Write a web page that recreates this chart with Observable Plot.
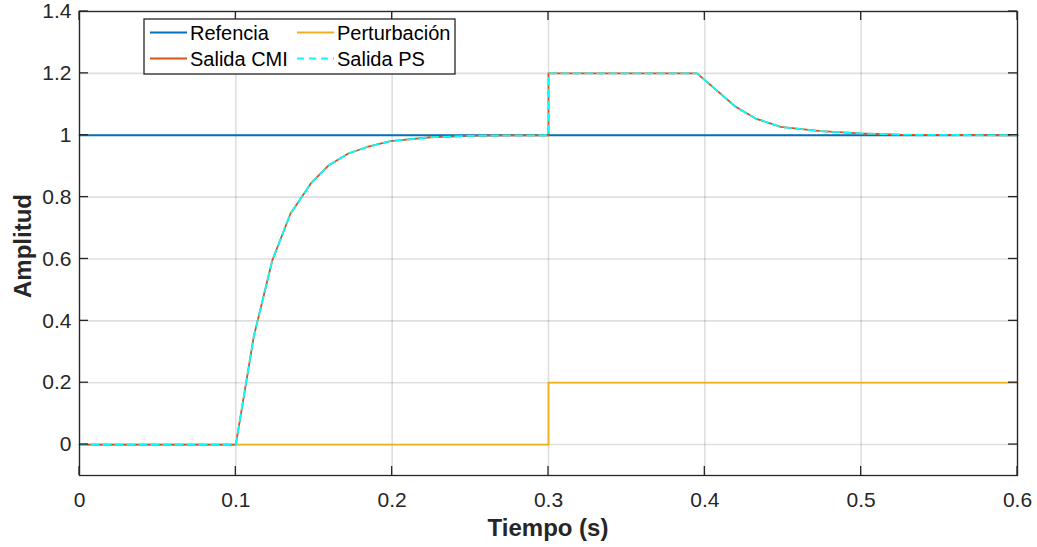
<!DOCTYPE html>
<html><head><meta charset="utf-8">
<script src="https://cdn.jsdelivr.net/npm/d3@7"></script>
<script src="https://cdn.jsdelivr.net/npm/@observablehq/plot@0.6"></script>
<style>body{margin:0;background:#fff;} #chart{width:1037px;height:547px;}</style>
</head><body><div id="chart"></div>
<script>
// ---- data ----
const xTicks = [0, 0.1, 0.2, 0.3, 0.4, 0.5, 0.6];
const yTicks = [0, 0.2, 0.4, 0.6, 0.8, 1, 1.2, 1.4];
const seriesNames = ["Refencia", "Perturbación", "Salida CMI", "Salida PS"];
const seriesColors = ["#0072BD", "#EDB120", "#D95319", "#00FFFF"];
const refT = [0, 0.6];
const refY = [1, 1];
const pertT = [0, 0.3, 0.3, 0.6];
const pertY = [0, 0, 0.2, 0.2];
const outT = [0, 0.1, 0.1115, 0.1233, 0.135, 0.148, 0.1595, 0.172, 0.184, 0.199, 0.2246, 0.25, 0.275, 0.3, 0.3, 0.395, 0.4197, 0.4325, 0.4485, 0.474, 0.4997, 0.525, 0.55, 0.6];
const outY = [0, 0, 0.35, 0.595, 0.747, 0.844, 0.903, 0.941, 0.962, 0.981, 0.9935, 0.998, 0.9995, 1, 1.2, 1.2, 1.092, 1.054, 1.027, 1.013, 1.006, 1.002, 1.001, 1];

const W = 1037, H = 547;
const FONT = "Liberation Sans, Arial, Helvetica, sans-serif";
const fmt = d => String(+d.toFixed(1));

const plot = Plot.plot({
  width: W, height: H,
  marginLeft: 79, marginRight: 20, marginTop: 11, marginBottom: 72,
  style: {fontFamily: FONT, fontSize: "21px", color: "#262626", background: "#fff"},
  x: {domain: [0, 0.6]},
  y: {domain: [-0.1, 1.4]},
  marks: [
    Plot.gridX(xTicks, {stroke: "#262626", strokeOpacity: 0.15, strokeWidth: 1.6}),
    Plot.gridY(yTicks, {stroke: "#262626", strokeOpacity: 0.15, strokeWidth: 1.6}),
    Plot.axisX(xTicks, {tickSize: 0, tickPadding: 17, tickFormat: fmt, label: null, fill: "#262626"}),
    Plot.axisY(yTicks, {tickSize: 0, tickPadding: 8, tickFormat: fmt, label: null, fill: "#262626"}),
    Plot.line(refT, {x: refT, y: refY, stroke: seriesColors[0], strokeWidth: 1.8}),
    Plot.line(pertT, {x: pertT, y: pertY, stroke: seriesColors[1], strokeWidth: 1.8}),
    Plot.line(outT, {x: outT, y: outY, stroke: seriesColors[2], strokeWidth: 1.8}),
    Plot.line(outT, {x: outT, y: outY, stroke: seriesColors[3], strokeWidth: 1.8, strokeDasharray: "7,5"}),
    Plot.frame({stroke: "#262626", strokeWidth: 1.3})
  ]
});
document.getElementById("chart").appendChild(plot);

const sx = plot.scale("x"), sy = plot.scale("y");
const svg = d3.select(plot);
const [x0, x1] = sx.range, [y0, y1] = sy.range; // y0 bottom, y1 top
const tk = 9;
const g = svg.append("g").attr("stroke", "#262626").attr("stroke-width", 1.3);
xTicks.forEach(v => {
  const x = sx.apply(v);
  g.append("line").attr("x1", x).attr("x2", x).attr("y1", y0).attr("y2", y0 - tk);
  g.append("line").attr("x1", x).attr("x2", x).attr("y1", y1).attr("y2", y1 + tk);
});
yTicks.forEach(v => {
  const y = sy.apply(v);
  g.append("line").attr("x1", x0).attr("x2", x0 + tk).attr("y1", y).attr("y2", y);
  g.append("line").attr("x1", x1).attr("x2", x1 - tk).attr("y1", y).attr("y2", y);
});

// axis labels
svg.append("text").text("Tiempo (s)")
  .attr("x", (x0 + x1) / 2).attr("y", 536)
  .attr("text-anchor", "middle").attr("font-weight", "bold").attr("font-size", 24)
  .attr("font-family", FONT).attr("fill", "#262626");
svg.append("text").text("Amplitud")
  .attr("transform", `translate(31,${(y0 + y1) / 2 + 3}) rotate(-90)`)
  .attr("text-anchor", "middle").attr("font-weight", "bold").attr("font-size", 24)
  .attr("font-family", FONT).attr("fill", "#262626");

// legend
const lg = svg.append("g").attr("font-family", FONT).attr("font-size", 20).attr("fill", "#000").attr("text-anchor", "start");
lg.append("rect").attr("x", 144).attr("y", 19).attr("width", 311).attr("height", 55)
  .attr("fill", "#fff").attr("stroke", "#262626").attr("stroke-width", 1.3);
const pos = [[150, 32.5], [297, 32.5], [150, 58.5], [297, 58.5]];
[0, 1, 2, 3].forEach((k, i) => {
  const [lx, ly] = pos[i];
  lg.append("line").attr("x1", lx).attr("x2", lx + 37).attr("y1", ly).attr("y2", ly)
    .attr("stroke", seriesColors[k]).attr("stroke-width", 1.8)
    .attr("stroke-dasharray", k === 3 ? "7,5" : null);
  lg.append("text").text(seriesNames[k]).attr("x", lx + 40).attr("y", ly)
    .attr("dy", "0.35em").attr("text-anchor", "start");
});
</script>
</body></html>
